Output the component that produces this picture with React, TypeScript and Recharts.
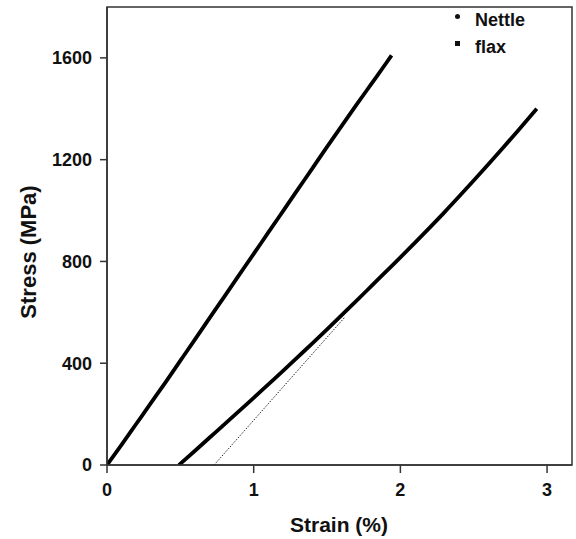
import React from 'react';
import { LineChart, Line, XAxis, YAxis, ReferenceArea } from 'recharts';

// strain (%) / stress (MPa)
const nettleStrain = [0, 0.1, 0.2, 0.3, 0.4, 0.5, 0.6, 0.7, 0.8, 0.9, 1.0, 1.1, 1.2, 1.3, 1.4, 1.5, 1.6, 1.7, 1.8, 1.9, 1.94];
const nettleStress = [0, 80, 162, 244, 326, 410, 494, 578, 662, 746, 830, 914, 998, 1082, 1166, 1250, 1333, 1415, 1496, 1577, 1610];

const flaxStrain = [0.49, 0.6, 0.7, 0.8, 0.9, 1.0, 1.1, 1.2, 1.3, 1.4, 1.5, 1.6, 1.7, 1.8, 1.9, 2.0, 2.1, 2.2, 2.3, 2.4, 2.5, 2.6, 2.7, 2.8, 2.93];
const flaxStress = [0, 56, 108, 160, 212, 264, 317, 370, 424, 478, 533, 589, 645, 702, 759, 816, 874, 933, 993, 1055, 1118, 1182, 1247, 1313, 1400];

// dotted tangent to the upper flax region
const tangentStrain = [0.73, 1.62];
const tangentStress = [0, 580];

const xTicks = [0, 1, 2, 3];
const yTicks = [0, 400, 800, 1200, 1600];
const seriesNames = ['Nettle', 'flax'];

const toPoints = (xs: number[], ys: number[]) => xs.map((x, i) => ({ strain: x, stress: ys[i] }));

const nettleData = toPoints(nettleStrain, nettleStress);
const flaxData = toPoints(flaxStrain, flaxStress);
const tangentData = toPoints(tangentStrain, tangentStress);

const FONT = '"Liberation Sans", Arial, Helvetica, sans-serif';
const AXIS = '#333';

const LegendBox = () => (
  <div
    style={{
      position: 'absolute',
      top: 7,
      left: 455,
      fontFamily: FONT,
      fontWeight: 'bold',
      fontSize: 18,
      color: '#111',
    }}
  >
    {seriesNames.map((name) => (
      <div key={name} style={{ height: 27, lineHeight: '27px', display: 'flex', alignItems: 'center' }}>
        <span
          style={{
            display: 'inline-block',
            width: 5,
            height: 5,
            borderRadius: name === 'Nettle' ? 3 : 0,
            background: '#111',
            marginRight: 15,
            position: 'relative',
            top: -4,
          }}
        />
        <span>{name}</span>
      </div>
    ))}
  </div>
);

export default function App() {
  return (
    <div style={{ position: 'absolute', left: 0, top: 0, width: 576, height: 539, background: '#fff' }}>
      <LineChart width={576} height={539} margin={{ top: 7, right: 4, bottom: 0, left: 0 }}>
        <XAxis
          type="number"
          dataKey="strain"
          domain={[0, 3.17]}
          ticks={xTicks}
          allowDataOverflow
          height={74}
          stroke={AXIS}
          strokeWidth={1.5}
          tickSize={8}
          tickMargin={10}
          tick={{ fill: '#111', fontSize: 18, fontWeight: 'bold', fontFamily: FONT }}
          label={{
            content: () => (
              <text x={339} y={532} textAnchor="middle" fill="#111" fontSize={21} fontWeight="bold" fontFamily={FONT}>
                Strain (%)
              </text>
            ),
          }}
        />
        <YAxis
          type="number"
          dataKey="stress"
          domain={[0, 1800]}
          ticks={yTicks}
          allowDataOverflow
          width={107}
          stroke={AXIS}
          strokeWidth={1.5}
          tickSize={7}
          tickMargin={8}
          tick={{ fill: '#111', fontSize: 18, fontWeight: 'bold', fontFamily: FONT }}
          label={{
            content: () => (
              <text
                x={36}
                y={252}
                transform="rotate(-90 36 252)"
                textAnchor="middle"
                fill="#111"
                fontSize={22}
                fontWeight="bold"
                fontFamily={FONT}
              >
                Stress (MPa)
              </text>
            ),
          }}
        />
        <ReferenceArea x1={0} x2={3.17} y1={0} y2={1800} fill="none" stroke={AXIS} strokeWidth={1.5} />
        <Line
          data={tangentData}
          dataKey="stress"
          type="linear"
          stroke="#222"
          strokeWidth={1}
          strokeDasharray="1.5 1.5"
          dot={false}
          isAnimationActive={false}
        />
        <Line
          data={nettleData}
          dataKey="stress"
          name="Nettle"
          type="monotone"
          stroke="#000"
          strokeWidth={3.8}
          dot={false}
          isAnimationActive={false}
        />
        <Line
          data={flaxData}
          dataKey="stress"
          name="flax"
          type="monotone"
          stroke="#000"
          strokeWidth={3.8}
          dot={false}
          isAnimationActive={false}
        />
      </LineChart>
      <LegendBox />
    </div>
  );
}
